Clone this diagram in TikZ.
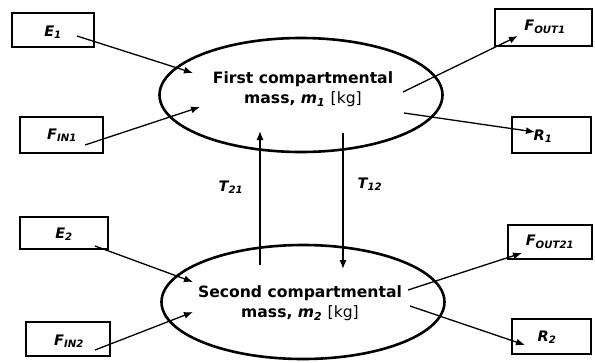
\documentclass[tikz,border=0pt]{standalone}
\usepackage{fontspec}
\setmainfont{DejaVu Sans}
\usetikzlibrary{shapes.geometric,arrows.meta}
\begin{document}
\begin{tikzpicture}[x=1pt,y=-1pt,
  boxnode/.style={draw,line width=1.6pt,inner sep=0pt},
  massnode/.style={draw,ellipse,line width=2.6pt,inner sep=0pt,minimum width=283pt,minimum height=114pt},
  lbl/.style={font=\fontsize{14.5}{16}\selectfont\bfseries\itshape},
  flow/.style={line width=1.3pt,-{Latex[length=9pt,width=7pt]}},
  bodytext/.style={font=\fontsize{15.6}{20}\selectfont\bfseries,align=center}]
\useasboundingbox (0,0) rectangle (595,362);
% ellipses
\node[massnode] (m1) at (301,95) {};
\node[massnode] (m2) at (303,302) {};
\node[bodytext] (t1) at (303,89) {First compartmental\\mass, \textit{m}\textsubscript{\textit{1}} \textmd{[kg]}};
\node[bodytext] (t2) at (300,303) {Second compartmental\\mass, \textit{m}\textsubscript{\textit{2}} \textmd{[kg]}};
% boxes
\node[boxnode,minimum width=82pt,minimum height=34pt] (E1) at (53,30) {};
\node[lbl] at (53,32) {E\textsubscript{1}};
\node[boxnode,minimum width=83pt,minimum height=36pt] (FIN1) at (61.5,135) {};
\node[lbl] at (62,135) {F\textsubscript{IN1}};
\node[boxnode,minimum width=97pt,minimum height=37pt] (FOUT1) at (543.5,27.5) {};
\node[lbl] at (545,27) {F\textsubscript{OUT1}};
\node[boxnode,minimum width=79pt,minimum height=36pt] (R1) at (551.5,135) {};
\node[lbl] at (543,136) {R\textsubscript{1}};
\node[boxnode,minimum width=88pt,minimum height=32pt] (E2) at (64,233) {};
\node[lbl] at (64,234) {E\textsubscript{2}};
\node[boxnode,minimum width=84pt,minimum height=34pt] (FIN2) at (68,339) {};
\node[lbl] at (69,341) {F\textsubscript{IN2}};
\node[boxnode,minimum width=84pt,minimum height=34pt] (FOUT21) at (550,242) {};
\node[lbl] at (550,242) {F\textsubscript{OUT21}};
\node[boxnode,minimum width=79pt,minimum height=35pt] (R2) at (551.5,336.5) {};
\node[lbl] at (547,337) {R\textsubscript{2}};
% connector end points
\coordinate (e1s) at (77,36);   \coordinate (e1e) at (193,73);
\coordinate (f1s) at (85,145);  \coordinate (f1e) at (200,107);
\coordinate (o1s) at (403,92);  \coordinate (o1e) at (518,36);
\coordinate (r1s) at (404,113); \coordinate (r1e) at (535,132);
\coordinate (e2s) at (95,246);  \coordinate (e2e) at (193,282);
\coordinate (f2s) at (95,350);  \coordinate (f2e) at (193,312);
\coordinate (o2s) at (408,290); \coordinate (o2e) at (522,253);
\coordinate (r2s) at (410,306); \coordinate (r2e) at (525,345);
\coordinate (t21s) at (260,265); \coordinate (t21e) at (260,131);
\coordinate (t12s) at (343,133); \coordinate (t12e) at (343,269);
\draw[flow] (e1s) -- (e1e);
\draw[flow] (f1s) -- (f1e);
\draw[flow] (o1s) -- (o1e);
\draw[flow] (r1s) -- (r1e);
\draw[flow] (e2s) -- (e2e);
\draw[flow] (f2s) -- (f2e);
\draw[flow] (o2s) -- (o2e);
\draw[flow] (r2s) -- (r2e);
\draw[flow] (t21s) -- (t21e);
\draw[flow] (t12s) -- (t12e);
\node[lbl] (T21) at (231,187) {T\textsubscript{21}};
\node[lbl] (T12) at (370,184) {T\textsubscript{12}};
\end{tikzpicture}
\end{document}
